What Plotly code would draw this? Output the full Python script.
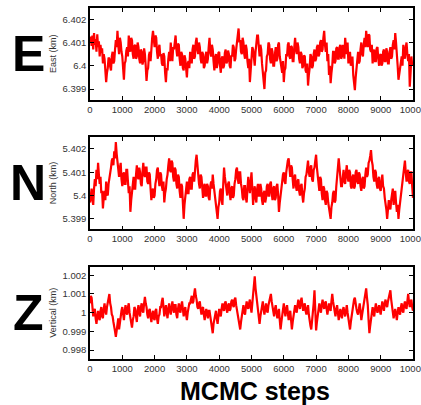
import plotly.graph_objects as go

# MCMC step index (every 25th sample shown)
steps = list(range(0, 10001, 25))

# offsets in metres from the base position (km)
east_base_km = 6.4
east_offset_m = [
    1.0, 1.25, 0.85, 1.3, 0.7, 1.4, 0.9, 1.15, 0.6, 1.35, 0.8, 1.05, 0.4, 0.9, 0.55, 0.75, 0.1, 0.5, 0.3, -0.2,
    -0.7, -0.3, -0.1, 0.35, 0.3, -0.05, -0.2, 0.4, 0.6, 0.1, 0.2, 0.7, 1.1, 0.8, 1.5, 0.9, 0.5, 1.2, 1.0, 0.6,
    0.4, -0.1, -0.6, 0.1, 0.2, 0.65, 0.8, 0.4, 1.3, 0.9, 0.6, 1.2, 1.1, 0.5, 0.3, 0.85, 0.9, 0.3, 0.4, 1.0,
    0.8, 0.3, 0.1, 0.7, 0.6, 0.05, 0.2, 0.75, 0.5, 0.0, -0.65, -0.2, -0.1, 0.45, 0.6, 0.2, 0.9, 1.2, 1.5, 0.9,
    0.8, 1.3, 1.2, 0.6, 0.3, 0.75, 0.9, 0.4, 0.5, 0.1, 0.0, 0.55, 0.4, -0.3, -0.7, -0.1, -0.2, 0.3, 0.6, 0.2,
    1.0, 0.5, 0.2, 0.8, 0.7, 1.0, 1.3, 0.7, 0.4, 0.95, 0.9, 0.3, 0.0, 0.6, 0.5, -0.1, -0.2, 0.45, 0.3, -0.1,
    -0.5, 0.1, 0.2, -0.1, 0.6, 0.3, 0.1, 0.7, 0.9, 0.3, 0.4, 1.0, 1.2, 0.7, 0.5, 1.0, 0.8, 0.3, 0.1, 0.6,
    0.5, -0.1, 0.0, 0.4, 0.6, 0.1, 0.3, 0.8, 1.2, 0.6, 0.4, 0.9, 0.7, 0.2, -0.2, 0.35, 0.5, -0.1, 0.1, 0.55,
    0.6, 0.0, -0.3, 0.3, 0.4, -0.1, 0.0, 0.55, 0.7, 0.1, 0.2, 0.65, 0.5, 0.0, -0.1, 0.45, 0.4, 0.9, 0.8, 0.2,
    0.3, 0.7, 1.0, 1.3, 1.6, 1.0, 1.1, 0.6, 0.5, 1.2, 1.0, 0.5, 0.3, 0.9, 0.7, 0.2, -0.1, 0.3, -0.7, -0.2,
    0.2, 0.8, 0.7, 0.1, 0.0, 0.6, 0.9, 1.3, 1.3, 0.6, 0.4, 0.9, 0.7, 0.1, -0.3, -0.6, -1.0, -0.3, -0.2, 0.4,
    0.5, 1.0, 0.9, 0.3, 0.1, 0.75, 0.6, 0.0, 0.0, 0.5, 0.8, 0.2, 0.3, 0.9, 1.0, 0.4, 0.2, -0.1, -0.3, 0.2,
    -0.7, -0.2, -0.1, 0.5, 0.4, 0.9, 1.0, 0.4, 0.3, 0.85, 0.8, 0.2, 0.2, 0.8, 1.2, 0.7, 0.5, 1.0, 0.8, 0.3,
    0.1, 0.6, 0.5, -0.1, 0.0, 0.45, 0.4, -0.2, -0.3, 0.1, -0.85, -0.4, -0.1, 0.5, 0.4, -0.1, 0.0, 0.5, 0.7, 0.2,
    0.3, 0.8, 0.9, 0.4, 0.5, 1.0, 1.1, 0.6, 0.7, 1.2, 1.5, 0.9, 0.6, 1.0, 0.2, 0.5, -0.4, 0.0, -0.75, -0.3,
    0.0, 0.6, 0.6, 0.1, 0.2, 0.75, 0.8, 0.3, 0.3, 0.8, 0.9, 0.3, 0.4, 0.9, 0.7, 0.3, 1.2, 0.8, 0.5, 1.0,
    0.1, 0.5, 0.6, 0.0, 0.2, 0.4, -0.4, -0.7, -1.05, -0.5, -0.2, 0.3, 0.6, 0.1, 0.2, 0.7, 1.0, 0.5, 0.4, 0.9,
    1.2, 0.8, 1.5, 1.1, 0.8, 1.35, 1.3, 0.7, 0.6, 0.9, 0.1, 0.5, 0.7, 0.2, 0.2, 0.75, 0.8, 0.3, 0.0, 0.45,
    0.5, 0.0, 0.1, 0.6, 0.7, 0.2, 0.2, 0.75, 0.6, 0.1, 0.1, 0.6, 0.8, 0.3, 0.4, 0.9, 1.1, 0.7, 1.4, 1.0,
    0.6, 0.0, -0.6, -0.3, -0.2, 0.3, 0.4, 0.0, 0.9, 0.5, 0.3, 0.8, 1.0, 0.5, 0.2, 0.5, -0.9, -0.3, 0.4, 0.0,
    0.1,
]

north_base_km = 5.4
north_offset_m = [
    -0.3, 0.2, 0.3, -0.2, -0.4, 0.3, 0.7, 0.4, 1.1, 0.7, 1.4, 0.9, 0.5, 0.8, 0.1, 0.2, -0.55, -0.1, 0.2, -0.2,
    0.6, 0.1, 0.0, 0.5, 0.7, 1.0, 1.2, 1.5, 1.6, 1.3, 1.9, 1.6, 2.3, 1.8, 1.5, 1.0, 0.8, 1.2, 1.4, 0.7,
    0.4, 0.9, 1.0, 0.5, 0.5, 1.1, 1.1, 0.6, 0.1, 0.4, -0.7, -0.2, 0.2, 0.6, 0.8, 0.3, 0.3, 0.9, 1.3, 0.8,
    0.7, 1.2, 1.0, 0.5, 0.4, 1.0, 1.4, 0.9, 0.8, 1.2, 1.2, 0.6, 0.5, 1.0, 0.9, 0.3, -0.2, 0.2, 0.3, -0.1,
    0.0, 0.5, 0.7, 1.1, 1.2, 0.7, 0.4, 1.0, 0.9, 0.4, 0.2, 0.6, -0.3, 0.1, 0.3, 0.7, 0.9, 1.3, 1.6, 1.1,
    1.0, 1.5, 1.4, 0.8, 0.6, 1.2, 1.1, 0.5, 0.3, 0.9, 0.8, 0.2, -0.1, 0.5, 0.4, -0.3, -1.0, -0.4, 0.0, 0.5,
    0.6, 0.1, 0.1, 0.7, 0.8, 0.3, 0.3, 0.9, 1.0, 0.6, 1.3, 1.5, 1.75, 1.2, 0.9, 0.5, 0.3, 0.9, 0.8, 0.2,
    -0.1, 0.4, 0.5, 0.0, 0.0, 0.5, 0.4, -0.1, -0.2, 0.4, 0.6, 0.3, 0.9, 0.5, 0.2, -0.2, -0.6, -0.8, -1.0, -0.5,
    -0.3, 0.2, 0.3, -0.2, -0.4, 0.5, 1.2, 0.8, 0.5, 0.1, 0.0, 0.5, 0.6, 0.1, -0.2, 0.3, 0.4, -0.1, 0.0, 0.5,
    0.7, 1.1, 1.2, 0.7, 0.5, 1.0, 1.0, 0.5, 0.3, -0.1, -0.2, 0.4, 0.4, -0.1, -0.3, 0.3, 0.8, 0.4, 0.1, 0.6,
    1.0, 0.3, -0.4, 0.1, 0.4, -0.1, -0.3, 0.3, 0.5, 0.0, 0.0, 0.5, 0.3, -0.2, -0.4, 0.1, 0.2, -0.3, -0.1, 0.4,
    0.5, 0.0, 0.0, 0.5, 0.6, 0.1, -0.2, 0.3, 0.4, -0.2, -0.1, 0.4, 0.5, 0.0, -0.7, -0.3, 0.1, 0.5, 0.6, 0.9,
    1.0, 0.6, 0.5, 1.0, 1.3, 1.5, 1.6, 1.1, 0.8, 1.3, 1.2, 0.7, 0.3, 0.8, 0.9, 0.4, 0.2, 0.6, 0.7, 0.2,
    0.0, 0.4, 0.5, 0.0, -0.3, 0.1, 0.3, 0.8, 0.9, 1.2, 1.5, 1.0, 0.8, 1.2, 1.3, 0.7, 0.6, 1.1, 1.2, 1.5,
    1.75, 1.2, 0.9, 0.4, 0.2, 0.8, 0.7, 0.1, -0.2, 0.4, 0.3, -0.2, -0.4, 0.2, 0.1, -0.3, -0.5, -0.7, -1.0, -0.5,
    -0.3, 0.1, 0.2, -0.3, -0.2, 0.4, 0.8, 1.2, 1.6, 1.2, 0.9, 0.4, 0.4, 0.9, 1.1, 0.6, 0.5, 1.0, 1.3, 0.8,
    0.6, 1.1, 1.0, 0.4, 0.3, 0.8, 0.9, 0.3, 0.4, 1.0, 1.1, 0.6, 0.5, 1.0, 0.9, 0.4, 0.2, 0.7, 0.8, 0.3,
    0.4, 0.9, 1.2, 0.8, 0.9, 1.4, 1.5, 1.7, 1.95, 1.5, 1.3, 0.8, 0.6, 1.1, 1.0, 0.5, 0.3, 0.7, 0.8, 0.3,
    0.2, 0.6, 0.9, 0.4, 0.3, -0.1, -0.3, -0.6, -1.0, -0.5, -0.2, -0.5, -0.6, -0.2, 0.0, 0.3, -0.4, -0.1, 0.2, -0.3,
    -0.7, -0.4, -1.0, -0.6, -0.3, 0.1, 0.4, 0.8, 1.0, 1.3, 1.5, 1.0, 0.6, 1.0, 1.1, 0.6, 0.5, 1.0, 1.0, 0.4,
    -0.1,
]

vertical_base_km = 1.0
vertical_offset_m = [
    0.5, 0.9, 0.8, 0.3, -0.2, 0.1, 0.2, -0.3, -0.6, -0.2, 0.1, -0.3, -0.4, 0.1, 0.3, -0.2, -0.3, 0.2, 0.5, 0.1,
    -0.1, 0.3, 0.6, 0.9, 1.0, 0.5, 0.3, -0.1, -0.2, -0.5, -0.7, -1.0, -1.3, -0.9, -0.6, -0.3, -0.9, -0.5, -0.2, 0.1,
    0.3, -0.1, -0.4, 0.1, 0.4, 0.0, -0.1, 0.3, 0.5, 0.0, -0.3, -0.5, -0.8, -0.4, -0.2, 0.3, 0.2, -0.2, -0.5, 0.1,
    0.4, 0.0, -0.2, 0.3, 0.5, 0.1, 0.0, 0.5, 0.85, 0.5, 0.3, -0.1, -0.3, 0.1, 0.2, -0.2, -0.5, -0.1, 0.1, -0.3,
    -0.4, 0.1, 0.2, -0.3, -0.6, -0.2, -0.1, 0.3, 0.3, 0.6, 0.8, 0.3, -0.2, 0.1, 0.4, 0.0, -0.3, 0.2, 0.5, 0.1,
    -0.1, 0.3, 0.6, 0.2, 0.0, 0.4, 0.4, -0.1, -0.3, 0.2, 0.5, 0.1, 0.0, 0.4, 0.6, 0.2, -0.2, 0.1, 0.3, -0.1,
    -0.4, 0.0, 0.2, 0.5, 0.5, 0.8, 0.9, 0.5, 0.6, 1.0, 1.3, 0.9, 0.7, 0.3, 0.2, 0.5, 0.6, 0.2, -0.1, 0.2,
    0.3, -0.1, -0.4, 0.0, 0.2, -0.1, -0.3, 0.1, 0.1, -0.2, -0.5, -0.8, -1.1, -0.6, -0.3, 0.0, 0.1, -0.3, -0.6, -0.2,
    0.2, -0.1, -0.2, 0.2, 0.5, 0.2, 0.1, 0.5, 0.6, 0.2, 0.0, 0.4, 0.5, 0.1, 0.2, 0.6, 0.7, 0.4, 0.3, 0.7,
    0.8, 0.4, 0.1, -0.2, -0.4, -0.7, -0.9, -0.5, -0.2, 0.1, 0.4, 0.0, -0.1, 0.3, 0.6, 0.3, 0.2, 0.5, 0.7, 0.3,
    0.0, 0.5, 0.9, 1.5, 1.95, 1.3, 0.9, 0.5, 0.2, -0.2, -0.6, -0.2, 0.1, 0.4, 0.6, 0.2, -0.1, 0.2, 0.5, 0.1,
    0.0, 0.4, 0.6, 0.9, 1.0, 0.6, 0.3, 0.0, -0.2, 0.2, 0.4, 0.0, -0.3, 0.0, 0.2, -0.4, -0.9, -0.5, -0.1, 0.2,
    0.5, 0.1, -0.2, 0.2, 0.4, 0.0, -0.4, -0.1, 0.1, -0.4, -0.9, -0.5, -0.2, 0.2, 0.4, 0.1, 0.0, 0.4, 0.7, 0.4,
    0.2, 0.6, 0.8, 0.4, 0.1, 0.4, 0.5, 0.1, -0.1, 0.2, 0.4, -0.1, -0.5, -0.7, -0.9, -0.5, -0.2, 0.5, 1.2, 0.2,
    -0.95, -0.5, -0.2, 0.2, 0.5, 0.2, 0.0, 0.4, 0.7, 0.4, 0.2, 0.5, 0.6, 0.2, -0.1, 0.2, 0.5, 0.2, 0.1, 0.6,
    1.0, 0.6, 0.3, 0.0, -0.2, 0.2, 0.4, 0.0, -0.4, -0.1, 0.2, -0.1, -0.3, 0.1, 0.3, 0.0, -0.2, 0.1, 0.4, 0.0,
    -0.3, -0.6, -0.9, -0.5, -0.2, 0.2, 0.5, 0.7, 0.8, 0.4, 0.2, 0.0, -0.1, 0.2, 0.5, 0.1, -0.4, -0.1, 0.2, 0.4,
    0.6, 1.0, 1.3, 0.8, 0.4, -0.4, -1.1, -0.7, -0.4, 0.0, 0.3, 0.0, -0.2, 0.2, 0.5, 0.2, 0.0, 0.2, 0.4, 0.1,
    -0.1, 0.3, 0.6, 0.3, 0.1, 0.5, 0.7, 0.4, 0.3, 0.6, 0.8, 1.0, 1.2, 0.7, 0.3, 0.0, -0.3, 0.0, 0.2, -0.1,
    -0.4, 0.0, 0.3, 0.0, -0.1, 0.3, 0.5, 0.1, 0.0, 0.4, 0.6, 0.3, 0.2, 0.6, 1.0, 0.6, 0.3, 0.5, 0.7, 0.3,
    0.1,
]

assert len(east_offset_m) == len(steps), len(east_offset_m)
assert len(north_offset_m) == len(steps), len(north_offset_m)
assert len(vertical_offset_m) == len(steps), len(vertical_offset_m)

x_tickvals = [0, 1000, 2000, 3000, 4000, 5000, 6000, 7000, 8000, 9000, 10000]
x_ticktext = ["0", "1000", "2000", "3000", "4000", "5000", "6000", "7000", "8000", "9000", "10000"]

east_tickvals = [6.399, 6.400, 6.401, 6.402]
east_ticktext = ["6.399", "6.4", "6.401", "6.402"]
north_tickvals = [5.399, 5.400, 5.401, 5.402]
north_ticktext = ["5.399", "5.4", "5.401", "5.402"]
vert_tickvals = [0.998, 0.999, 1.000, 1.001, 1.002]
vert_ticktext = ["0.998", "0.999", "1", "1.001", "1.002"]

panel_letters = ["E", "N", "Z"]
panel_titles = ["East (km)", "North (km)", "Vertical (km)"]
x_title = "MCMC steps"

east_km = [east_base_km + v / 1000.0 for v in east_offset_m]
north_km = [north_base_km + v / 1000.0 for v in north_offset_m]
vertical_km = [vertical_base_km + v / 1000.0 for v in vertical_offset_m]

W, H = 421, 405
ML, MR, MT, MB = 90, 8, 8, 46
ph = H - MT - MB


def dom(top_px, bot_px):
    return [(H - MB - bot_px) / ph, (H - MB - top_px) / ph]


domains = [dom(8, 100), dom(137.3, 229.3), dom(266.7, 359)]
yranges = [[6.39853, 6.40248], [5.39855, 5.4025], [0.99752, 1.00246]]
series = [east_km, north_km, vertical_km]
ytv = [east_tickvals, north_tickvals, vert_tickvals]
ytt = [east_ticktext, north_ticktext, vert_ticktext]

fig = go.Figure()
tick_font = dict(family="Liberation Sans, Arial, sans-serif", size=9.5, color="#333333")
layout = dict(
    width=W, height=H, margin=dict(l=ML, r=MR, t=MT, b=MB),
    paper_bgcolor="white", plot_bgcolor="white", showlegend=False,
    template="none",
)
annotations = []
for i in range(3):
    xa = "x" if i == 0 else f"x{i+1}"
    ya = "y" if i == 0 else f"y{i+1}"
    fig.add_trace(go.Scatter(
        x=steps, y=series[i], xaxis=xa, yaxis=ya, mode="lines",
        line=dict(color="#ff0000", width=2.2), hoverinfo="skip",
    ))
    xkey = "xaxis" if i == 0 else f"xaxis{i+1}"
    ykey = "yaxis" if i == 0 else f"yaxis{i+1}"
    layout[xkey] = dict(
        domain=[0, 1], anchor=ya, range=[0, 10000],
        tickvals=x_tickvals, ticktext=x_ticktext,
        ticks="inside", ticklen=4, tickwidth=1, tickcolor="black",
        showline=True, linecolor="black", linewidth=1.5, mirror="allticks",
        showgrid=False, zeroline=False, automargin=False, tickfont=tick_font,
        ticklabeloverflow="allow",
    )
    layout[ykey] = dict(
        domain=domains[i], anchor=xa, range=yranges[i],
        tickvals=ytv[i], ticktext=ytt[i],
        ticks="inside", ticklen=4, tickwidth=1, tickcolor="black",
        showline=True, linecolor="black", linewidth=1.5, mirror="allticks",
        showgrid=False, zeroline=False, automargin=False, tickfont=tick_font,
    )
    yc = (domains[i][0] + domains[i][1]) / 2
    annotations.append(dict(
        text=panel_titles[i], xref="paper", yref="paper",
        x=(53 - ML) / (W - ML - MR), y=yc, xanchor="center", yanchor="middle",
        textangle=-90, showarrow=False,
        font=dict(family="Liberation Sans, Arial, sans-serif", size=9, color="#333333"),
    ))
    annotations.append(dict(
        text=f"<b>{panel_letters[i]}</b>", xref="paper", yref="paper",
        x=(28 - ML) / (W - ML - MR), y=yc, xanchor="center", yanchor="middle",
        showarrow=False,
        font=dict(family="Liberation Sans Narrow, Arial Narrow, Liberation Sans, Arial, sans-serif",
                  size=50, color="black"),
    ))

annotations.append(dict(
    text=f"<b>{x_title}</b>", xref="paper", yref="paper",
    x=(255 - ML) / (W - ML - MR), y=-(391 - (H - MB)) / ph,
    xanchor="center", yanchor="middle", showarrow=False,
    font=dict(family="Liberation Sans, Arial, sans-serif", size=25, color="black"),
))
layout["annotations"] = annotations
fig.update_layout(**layout)
fig.write_html("out.html")
